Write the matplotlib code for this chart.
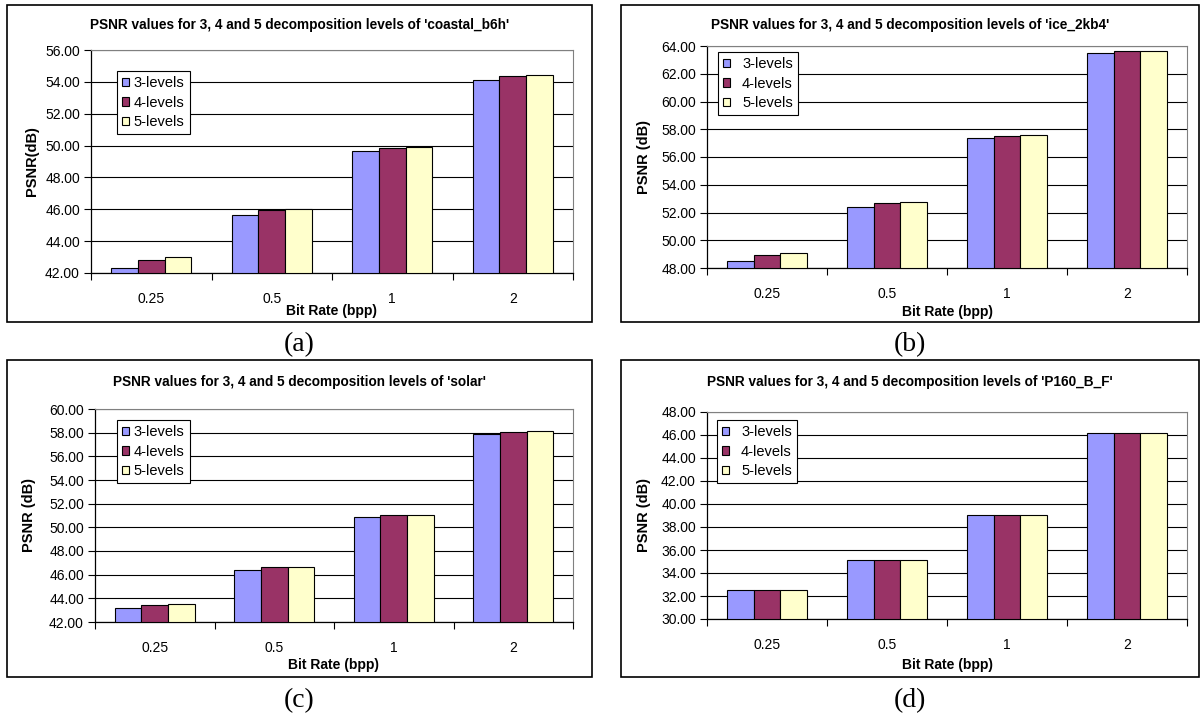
import matplotlib
matplotlib.use("Agg")
import matplotlib.pyplot as plt
from matplotlib.patches import Rectangle
from matplotlib.ticker import FormatStrFormatter, MultipleLocator
import numpy as np

plt.rcParams['font.family'] = ['Liberation Sans', 'DejaVu Sans']

# data
bit_rates = ['0.25', '0.5', '1', '2']
level_names = ['3-levels', '4-levels', '5-levels']
colors = ['#9999ff', '#993366', '#ffffcc']

coastal_3 = [42.33, 45.61, 49.69, 54.12]
coastal_4 = [42.79, 45.93, 49.84, 54.37]
coastal_5 = [42.98, 46.01, 49.94, 54.43]

ice_3 = [48.48, 52.42, 57.39, 63.52]
ice_4 = [48.93, 52.66, 57.53, 63.62]
ice_5 = [49.07, 52.78, 57.58, 63.67]

solar_3 = [43.19, 46.41, 50.90, 57.91]
solar_4 = [43.47, 46.61, 51.01, 58.05]
solar_5 = [43.53, 46.66, 51.07, 58.13]

p160_3 = [32.49, 35.09, 39.06, 46.20]
p160_4 = [32.49, 35.09, 39.06, 46.20]
p160_5 = [32.49, 35.09, 39.06, 46.20]

W, H = 1201, 717
fig = plt.figure(figsize=(W / 100, H / 100), dpi=100)


def frac_rect(l, t, r, b):
    return [l / W, 1 - b / H, (r - l) / W, (b - t) / H]


panels = [
    dict(name='coastal_b6h', series=[coastal_3, coastal_4, coastal_5], ylim=(42, 56),
         ylabel='PSNR(dB)', box=(7, 5, 592, 322), axes=(91, 50, 573, 273),
         title_y=25, ylabel_x=32, xlabel_y=311, leg=(117, 71), tag='(a)', tag_y=345, gap=0.3),
    dict(name='ice_2kb4', series=[ice_3, ice_4, ice_5], ylim=(48, 64),
         ylabel='PSNR (dB)', box=(621, 5, 1199, 322), axes=(707, 46, 1187, 268),
         title_y=25, ylabel_x=644, xlabel_y=312, leg=(718, 52), tag='(b)', tag_y=345, gap=0.8),
    dict(name='solar', series=[solar_3, solar_4, solar_5], ylim=(42, 60),
         ylabel='PSNR (dB)', box=(7, 360, 592, 677), axes=(95, 409, 573, 622),
         title_y=382, ylabel_x=29, xlabel_y=665, leg=(117, 420), tag='(c)', tag_y=701, gap=0.3),
    dict(name='P160_B_F', series=[p160_3, p160_4, p160_5], ylim=(30, 48),
         ylabel='PSNR (dB)', box=(621, 360, 1199, 677), axes=(707, 412, 1187, 619),
         title_y=382, ylabel_x=644, xlabel_y=665, leg=(717, 420), tag='(d)', tag_y=701, gap=0.8),
]

for p in panels:
    bl, bt, br, bb = p['box']
    fig.add_artist(Rectangle((bl / W, 1 - bb / H), (br - bl) / W, (bb - bt) / H,
                             transform=fig.transFigure, fill=False, edgecolor='black', linewidth=1.2))
    al, at, ar, ab = p['axes']
    ax = fig.add_axes(frac_rect(al, at, ar, ab))

    x = np.arange(len(bit_rates)) + 0.5
    w = 1 / 4.5
    for i, vals in enumerate(p['series']):
        ax.bar(x + (i - 1) * w, np.array(vals) - p['ylim'][0], width=w, bottom=p['ylim'][0],
               color=colors[i], edgecolor='black', linewidth=0.8, label=level_names[i], zorder=3)

    ax.set_xlim(0, len(bit_rates))
    ax.set_ylim(*p['ylim'])
    ax.yaxis.set_major_locator(MultipleLocator(2))
    ax.yaxis.set_major_formatter(FormatStrFormatter('%.2f'))
    ax.grid(axis='y', color='black', linewidth=0.8, zorder=0)

    ax.set_xticks(np.arange(len(bit_rates) + 1))
    ax.set_xticklabels([])
    ax.set_xticks(x, minor=True)
    ax.set_xticklabels(bit_rates, minor=True, fontsize=10)
    ax.tick_params(axis='x', which='major', direction='out', length=5, width=0.8)
    ax.tick_params(axis='x', which='minor', length=0, pad=14)
    ax.tick_params(axis='y', direction='out', length=5, width=0.8, labelsize=10, pad=3)

    for side in ['top', 'right']:
        ax.spines[side].set_color('#808080')
    for side in ['left', 'bottom']:
        ax.spines[side].set_linewidth(0.9)

    ax.set_xlabel('Bit Rate (bpp)', fontsize=10, fontweight='bold')
    ax.xaxis.label.set_va('center')
    ax.xaxis.set_label_coords(0.5, (ab - p['xlabel_y']) / (ab - at))
    ax.set_ylabel(p['ylabel'], fontsize=10.5, fontweight='bold')
    ax.yaxis.label.set_va('center')
    ax.yaxis.set_label_coords((p['ylabel_x'] - al) / (ar - al), 0.5)

    fig.text((bl + br) / 2 / W, 1 - p['title_y'] / H,
             f"PSNR values for 3, 4 and 5 decomposition levels of '{p['name']}'",
             ha='center', va='center', fontsize=9.8, fontweight='bold')
    fig.text((bl + br) / 2 / W, 1 - p['tag_y'] / H, p['tag'], ha='center', va='center',
             fontsize=20, family='Liberation Serif')

    lx, ly = p['leg']
    leg = ax.legend(loc='upper left',
                    bbox_to_anchor=((lx - al) / (ar - al), (ab - ly) / (ab - at)),
                    borderaxespad=0, fontsize=10.5, frameon=True, fancybox=False,
                    edgecolor='black', framealpha=1, handlelength=0.5, handleheight=0.5,
                    handletextpad=p['gap'], labelspacing=0.38, borderpad=0.35)
    leg.get_frame().set_linewidth(0.8)
    leg.set_zorder(5)

fig.savefig('out.png', dpi=100)
